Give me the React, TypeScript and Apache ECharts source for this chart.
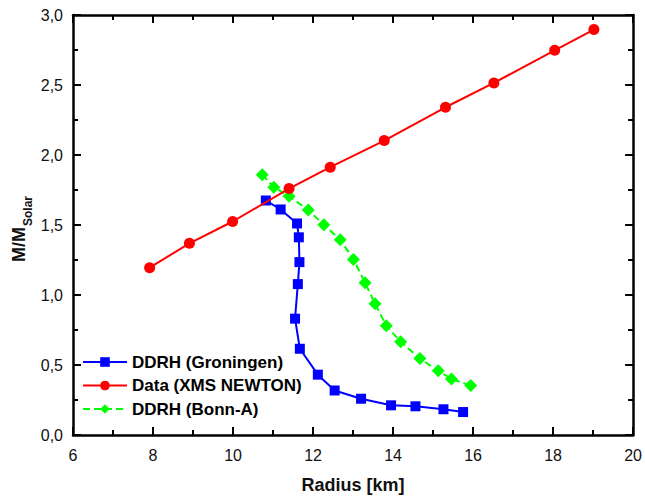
import React, { useEffect, useRef } from "react";
import * as echarts from "echarts";

const groningenR = [10.82, 11.19, 11.6, 11.645, 11.66, 11.62, 11.55, 11.67, 12.12, 12.54, 13.2, 13.95, 14.56, 15.26, 15.75];
const groningenM = [1.675, 1.611, 1.511, 1.412, 1.235, 1.078, 0.831, 0.616, 0.431, 0.318, 0.259, 0.212, 0.205, 0.184, 0.164];

const dataR = [7.915, 8.91, 9.99, 11.4, 12.43, 13.78, 15.31, 16.52, 18.04, 19.02];
const dataM = [1.195, 1.369, 1.525, 1.76, 1.913, 2.103, 2.341, 2.515, 2.748, 2.896];

const bonnR = [10.73, 11.02, 11.4, 11.88, 12.27, 12.68, 13.01, 13.3, 13.55, 13.83, 14.19, 14.67, 15.13, 15.46, 15.94];
const bonnM = [1.859, 1.77, 1.706, 1.607, 1.501, 1.395, 1.254, 1.087, 0.937, 0.781, 0.666, 0.546, 0.459, 0.4, 0.353];

const seriesNames = ["DDRH (Groningen)", "Data (XMS NEWTON)", "DDRH (Bonn-A)"];
const xTitle = "Radius [km]";

const FONT = "'Liberation Sans', Arial, sans-serif";

const zip = (a: number[], b: number[]) => a.map((v, i) => [v, b[i]]);

export default function App() {
  const ref = useRef<HTMLDivElement>(null);
  useEffect(() => {
    document.body.style.margin = "0";
    if (!ref.current) return;
    const chart = echarts.init(ref.current, undefined, { renderer: "svg" });
    const axisCommon = {
      type: "value" as const,
      axisLine: { show: true, onZero: false, lineStyle: { color: "#000", width: 2.5 } },
      axisTick: { show: true, inside: true, length: 8, lineStyle: { color: "#000", width: 2 } },
      minorTick: { show: true, splitNumber: 2, length: 5, lineStyle: { color: "#000", width: 2 } },
      splitLine: { show: false },
      minorSplitLine: { show: false },
    };
    chart.setOption({
      animation: false,
      backgroundColor: "#fff",
      grid: { left: 73, right: 9, top: 15, bottom: 59 },
      xAxis: [
        {
          ...axisCommon,
          min: 6,
          max: 20,
          interval: 2,
          position: "bottom",
          axisLabel: { color: "#111", fontSize: 16, fontFamily: FONT, margin: 12 },
          name: xTitle,
          nameLocation: "middle",
          nameGap: 41,
          nameTextStyle: { color: "#111", fontSize: 18, fontWeight: "bold", fontFamily: FONT },
        },
        {
          ...axisCommon,
          min: 6,
          max: 20,
          interval: 2,
          position: "top",
          axisLabel: { show: false },
        },
      ],
      yAxis: [
        {
          ...axisCommon,
          min: 0,
          max: 3,
          interval: 0.5,
          position: "left",
          axisLabel: {
            color: "#111",
            fontSize: 16,
            fontFamily: FONT,
            margin: 10,
            formatter: (v: number) => v.toFixed(1).replace(".", ","),
          },
        },
        {
          ...axisCommon,
          min: 0,
          max: 3,
          interval: 0.5,
          position: "right",
          axisLabel: { show: false },
        },
      ],
      legend: {
        orient: "vertical",
        left: 82,
        top: 353,
        padding: 0,
        itemWidth: 44,
        itemHeight: 12,
        itemGap: 5.5,
        data: seriesNames,
        textStyle: { color: "#000", fontSize: 17, fontWeight: "bold", fontFamily: FONT, lineHeight: 18 },
      },
      graphic: [
        {
          type: "group",
          x: 19,
          y: 262,
          rotation: Math.PI / 2,
          children: [
            {
              type: "text",
              x: 0,
              y: 0,
              style: {
                text: "M/M",
                fontSize: 18,
                fontWeight: "bold",
                fontFamily: FONT,
                fill: "#111",
                verticalAlign: "middle",
                align: "left",
              },
            },
            {
              type: "text",
              x: 36,
              y: 9,
              style: {
                text: "Solar",
                fontSize: 12,
                fontWeight: "bold",
                fontFamily: FONT,
                fill: "#111",
                verticalAlign: "middle",
                align: "left",
              },
            },
          ],
        },
      ],
      series: [
        {
          name: seriesNames[0],
          type: "line",
          z: 2,
          data: zip(groningenR, groningenM),
          symbol: "rect",
          symbolSize: 10,
          color: "#0000ff",
          lineStyle: { color: "#0000ff", width: 2 },
          itemStyle: { color: "#0000ff" },
        },
        {
          name: seriesNames[1],
          type: "line",
          z: 4,
          data: zip(dataR, dataM),
          symbol: "circle",
          symbolSize: 11,
          color: "#ff0000",
          lineStyle: { color: "#ff0000", width: 2 },
          itemStyle: { color: "#ff0000" },
        },
        {
          name: seriesNames[2],
          type: "line",
          z: 3,
          data: zip(bonnR, bonnM),
          symbol: "diamond",
          symbolSize: 13,
          color: "#00ff00",
          lineStyle: { color: "#00ff00", width: 2, type: [7, 4] },
          itemStyle: { color: "#00ff00" },
        },
      ],
    });
    return () => chart.dispose();
  }, []);
  return <div ref={ref} style={{ width: 645, height: 499 }} />;
}
